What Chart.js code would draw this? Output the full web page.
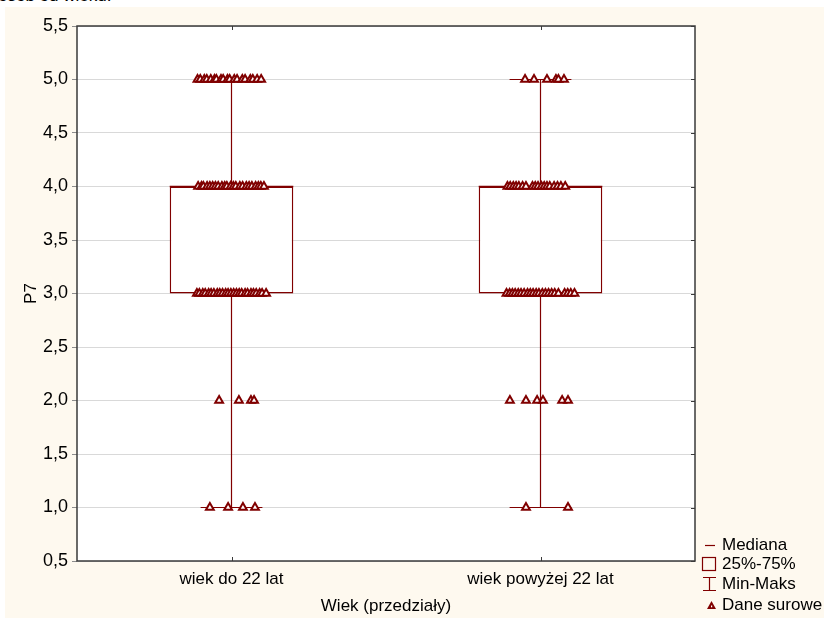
<!DOCTYPE html>
<html>
<head>
<meta charset="utf-8">
<script src="https://cdn.jsdelivr.net/npm/chart.js@4.4.0/dist/chart.umd.min.js"></script>
<style>
  html, body { margin: 0; padding: 0; background: #fff; width: 824px; height: 618px; overflow: hidden; }
  #caption { position: absolute; left: 0; top: 0; width: 824px; height: 7px; overflow: hidden; }
  #caption span { position: absolute; left: -2px; top: -13px; font: 17px "Liberation Sans", Arial, sans-serif; line-height: 17px; white-space: nowrap; color: #000; }
  #wrap { position: absolute; left: 5px; top: 7px; width: 819px; height: 611px; background: #fef9ef; }
</style>
</head>
<body>
<div id="caption"><span>osób od wieku.</span></div>
<div id="wrap"><canvas id="chart" width="819" height="611"></canvas></div>
<script>
const groups = ['wiek do 22 lat', 'wiek powyżej 22 lat'];
const minVals = [1, 1];
const q1Vals = [3, 3];
const medianVals = [4, 4];
const q3Vals = [4, 4];
const maxVals = [5, 5];

// raw answers (Dane surowe): horizontal jitter of each point, in category units, per answer value
const young5 = [-0.110, -0.101, -0.088, -0.080, -0.067, -0.055, -0.049, -0.034, -0.027, -0.013, -0.006, 0.009, 0.018, 0.035, 0.044, 0.061, 0.069, 0.083, 0.096];
const young4 = [-0.108, -0.097, -0.091, -0.079, -0.070, -0.061, -0.052, -0.043, -0.031, -0.022, -0.015, -0.003, 0.006, 0.014, 0.027, 0.036, 0.048, 0.057, 0.066, 0.078, 0.087, 0.095, 0.105];
const young3 = [-0.112, -0.104, -0.093, -0.085, -0.074, -0.066, -0.057, -0.046, -0.038, -0.029, -0.019, -0.011, -0.002, 0.007, 0.016, 0.025, 0.033, 0.044, 0.052, 0.063, 0.071, 0.080, 0.091, 0.099, 0.112];
const young2 = [-0.040, 0.024, 0.063, 0.073];
const young1 = [-0.070, -0.011, 0.037, 0.076];
const older5 = [-0.050, -0.021, 0.021, 0.050, 0.058, 0.076];
const older4 = [-0.107, -0.098, -0.088, -0.079, -0.070, -0.058, -0.047, -0.026, -0.017, -0.008, 0.003, 0.012, 0.021, 0.030, 0.044, 0.055, 0.066, 0.080];
const older3 = [-0.110, -0.100, -0.091, -0.082, -0.072, -0.063, -0.053, -0.042, -0.033, -0.024, -0.014, -0.005, 0.006, 0.016, 0.026, 0.036, 0.046, 0.058, 0.078, 0.088, 0.098, 0.110];
const older2 = [-0.099, -0.047, -0.011, 0.008, 0.070, 0.089];
const older1 = [-0.047, 0.089];

const MAROON = '#800000';
const BOX_HALF = 0.2;
const CAP_HALF = 0.1;

function rawPoints(center, levels) {
    return levels.flatMap(([value, jitter]) => jitter.map(j => ({ x: center + j, y: value })));
}

const rawData = [
    ...rawPoints(0, [[5, young5], [4, young4], [3, young3], [2, young2], [1, young1]]),
    ...rawPoints(1, [[5, older5], [4, older4], [3, older3], [2, older2], [1, older1]])
];

const whiskerData = [];
const medianData = [];
groups.forEach((g, i) => {
    whiskerData.push(
        { x: i - CAP_HALF, y: minVals[i] }, { x: i + CAP_HALF, y: minVals[i] }, { x: i, y: null },
        { x: i, y: minVals[i] }, { x: i, y: q1Vals[i] }, { x: i, y: null },
        { x: i, y: q3Vals[i] }, { x: i, y: maxVals[i] }, { x: i, y: null },
        { x: i - CAP_HALF, y: maxVals[i] }, { x: i + CAP_HALF, y: maxVals[i] }, { x: i, y: null }
    );
    medianData.push({ x: i - BOX_HALF, y: medianVals[i] }, { x: i + BOX_HALF, y: medianVals[i] }, { x: i, y: null });
});
const boxData = groups.map((g, i) => ({ x: i, y: [q1Vals[i], q3Vals[i]] }));

Chart.defaults.font.family = '"Liberation Sans", Arial, sans-serif';
Chart.defaults.font.size = 17;
Chart.defaults.color = '#000';

const framePlugin = {
    id: 'frame',
    beforeDraw(chart) {
        const { ctx, chartArea: a } = chart;
        ctx.save();
        ctx.fillStyle = '#fff';
        ctx.fillRect(a.left, a.top, a.right - a.left, a.bottom - a.top);
        ctx.restore();
    },
    afterDatasetsDraw(chart) {
        const { ctx, chartArea: a, scales } = chart;
        ctx.save();
        ctx.strokeStyle = '#3a3a3a';
        ctx.lineWidth = 1.5;
        ctx.strokeRect(a.left, a.top, a.right - a.left, a.bottom - a.top);
        ctx.lineWidth = 1;
        ctx.beginPath();
        groups.forEach((g, i) => {
            const px = Math.round(scales.x.getPixelForValue(i)) + 0.5;
            ctx.moveTo(px, a.top); ctx.lineTo(px, a.top + 4);
            ctx.moveTo(px, a.bottom); ctx.lineTo(px, a.bottom - 4);
        });
        scales.y.ticks.forEach(t => {
            const py = Math.round(scales.y.getPixelForValue(t.value)) + 0.5;
            ctx.moveTo(a.right - 4, py); ctx.lineTo(a.right, py);
        });
        ctx.stroke();
        ctx.restore();
    },
    afterDraw(chart) {
        const { ctx, chartArea: a } = chart;
        const x0 = a.right;
        ctx.save();
        ctx.font = '17px "Liberation Sans", Arial, sans-serif';
        ctx.textBaseline = 'middle';
        ctx.fillStyle = '#000';
        const items = [['Mediana', 538], ['25%-75%', 557], ['Min-Maks', 577], ['Dane surowe', 598]];
        items.forEach(([label, y]) => ctx.fillText(label, x0 + 27, y));
        ctx.strokeStyle = MAROON;
        ctx.fillStyle = MAROON;
        ctx.lineWidth = 1.2;
        ctx.beginPath();
        ctx.moveTo(x0 + 10, 538.5); ctx.lineTo(x0 + 20, 538.5);
        ctx.stroke();
        ctx.strokeRect(x0 + 7.5, 550.5, 13, 13);
        ctx.beginPath();
        ctx.moveTo(x0 + 8, 570.5); ctx.lineTo(x0 + 21, 570.5);
        ctx.moveTo(x0 + 14.5, 570.5); ctx.lineTo(x0 + 14.5, 584);
        ctx.moveTo(x0 + 8, 583.5); ctx.lineTo(x0 + 21, 583.5);
        ctx.stroke();
        ctx.beginPath();
        ctx.moveTo(x0 + 16.5, 594); ctx.lineTo(x0 + 21, 602); ctx.lineTo(x0 + 12, 602); ctx.closePath();
        ctx.fill();
        ctx.fillStyle = '#fff';
        ctx.fillRect(x0 + 16, 598.5, 1.2, 1.8);
        ctx.restore();
    }
};

new Chart(document.getElementById('chart'), {
    type: 'bar',
    data: {
        datasets: [
            {
                type: 'scatter',
                label: 'Dane surowe',
                data: rawData,
                pointStyle: 'triangle',
                pointRadius: 4.5,
                pointBorderWidth: 2,
                borderColor: MAROON,
                backgroundColor: '#fff',
                order: 0
            },
            {
                type: 'line',
                label: 'Mediana',
                data: medianData,
                borderColor: MAROON,
                borderWidth: 1.5,
                pointRadius: 0,
                spanGaps: false,
                order: 1
            },
            {
                type: 'bar',
                label: '25%-75%',
                data: boxData,
                backgroundColor: '#fff',
                borderColor: MAROON,
                borderWidth: 1.5,
                borderSkipped: false,
                categoryPercentage: 1,
                barPercentage: 2 * BOX_HALF,
                order: 2
            },
            {
                type: 'line',
                label: 'Min-Maks',
                data: whiskerData,
                borderColor: MAROON,
                borderWidth: 1.2,
                pointRadius: 0,
                spanGaps: false,
                order: 3
            }
        ]
    },
    options: {
        responsive: false,
        animation: false,
        layout: { padding: { left: 0, top: 19, right: 129, bottom: 0 } },
        plugins: {
            legend: { display: false },
            tooltip: { enabled: false }
        },
        scales: {
            x: {
                type: 'linear',
                min: -0.5,
                max: 1.5,
                offset: false,
                afterBuildTicks: axis => { axis.ticks = groups.map((g, i) => ({ value: i })); },
                afterFit: s => { s.height = 57; },
                ticks: {
                    callback: v => groups[v] ?? '',
                    autoSkip: false,
                    maxRotation: 0,
                    padding: 0
                },
                grid: { display: false, offset: false },
                border: { display: false },
                title: { display: true, text: 'Wiek (przedziały)', padding: { top: 0, bottom: 1 } }
            },
            y: {
                min: 0.5,
                max: 5.5,
                beginAtZero: false,
                afterFit: s => { s.width = 72; },
                ticks: {
                    stepSize: 0.5,
                    padding: 4,
                    font: { size: 18 },
                    callback: v => v.toFixed(1).replace('.', ',')
                },
                grid: { color: '#d9d9d9', tickColor: '#8c8c8c', tickLength: 5 },
                border: { display: false },
                title: { display: true, text: 'P7', padding: { top: 16, bottom: 0 } }
            }
        }
    },
    plugins: [framePlugin]
});
</script>
</body>
</html>
